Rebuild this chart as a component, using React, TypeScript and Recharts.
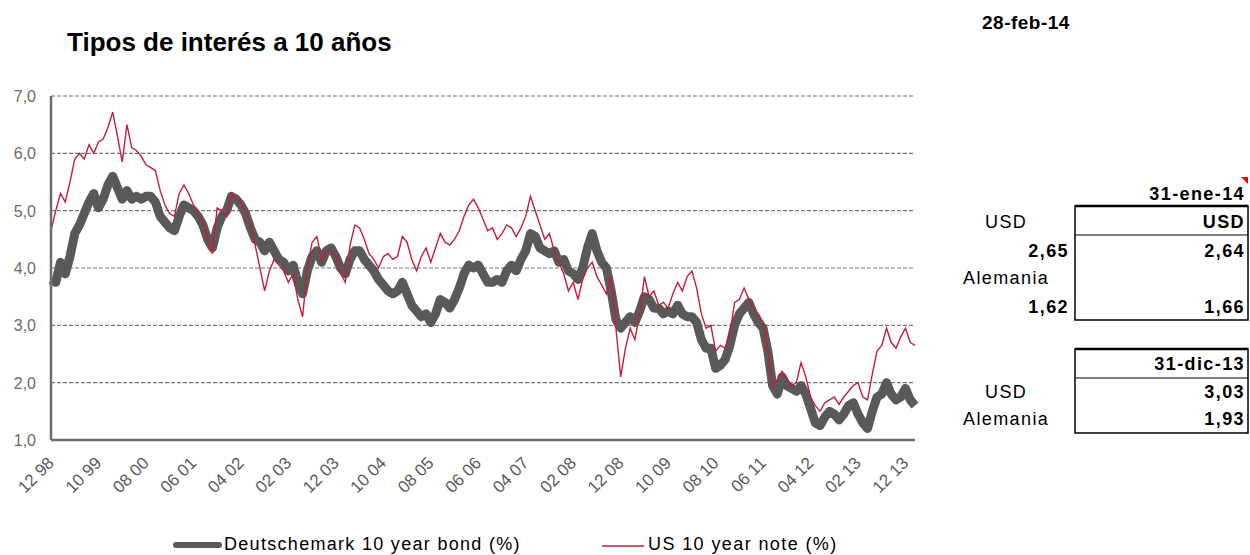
import { LineChart, Line, XAxis, YAxis, CartesianGrid } from "recharts";

// monthly readings, dic-98 .. feb-14
const START_YEAR = 1998;
const START_MONTH = 12;

const US_10Y = [
  4.65, 5.0, 5.3, 5.15, 5.5, 5.9, 6.0, 5.9, 6.15, 6.0, 6.2, 6.25, 6.45,
  6.72, 6.3, 5.85, 6.5, 6.1, 6.05, 5.95, 5.8, 5.75, 5.7, 5.35, 5.1,
  4.95, 4.9, 5.3, 5.45, 5.3, 5.1, 4.95, 4.8, 4.5, 4.25, 5.05, 5.0,
  4.9, 5.3, 5.2, 5.15, 4.95, 4.75, 4.4, 4.0, 3.6, 3.95, 4.15, 4.05,
  3.95, 3.75, 3.9, 3.45, 3.15, 4.0, 4.45, 4.55, 4.15, 4.3, 4.3, 4.2,
  3.9, 3.75, 4.4, 4.75, 4.7, 4.5, 4.25, 4.15, 4.0, 4.2, 4.25, 4.15,
  4.2, 4.55, 4.45, 4.15, 3.95, 4.2, 4.35, 4.1, 4.35, 4.6, 4.45, 4.4,
  4.5, 4.65, 4.9, 5.1, 5.2, 5.05, 4.85, 4.65, 4.7, 4.5, 4.6, 4.75,
  4.7, 4.55, 4.7, 4.9, 5.25, 5.0, 4.75, 4.5, 4.6, 4.3, 4.1, 3.9,
  3.6, 3.75, 3.45, 3.8, 4.0, 4.1, 3.85, 3.7, 3.55, 3.85, 2.95, 2.1,
  2.6, 2.95, 2.75, 3.2, 3.85, 3.5, 3.6, 3.35, 3.4, 3.3, 3.55, 3.75,
  3.6, 3.85, 3.95, 3.65, 3.2, 2.95, 3.0, 2.55, 2.65, 2.6, 2.85, 3.4,
  3.45, 3.65, 3.45, 3.3, 3.2, 3.05, 2.55, 1.95, 2.05, 2.2, 2.05, 1.95,
  2.0, 2.35, 2.1, 1.75, 1.6, 1.5, 1.65, 1.7, 1.75, 1.62, 1.75, 1.85,
  1.95, 2.0, 1.75, 1.7, 2.15, 2.55, 2.65, 2.95, 2.7, 2.6, 2.8, 2.95,
  2.7, 2.65,
];

const BUND_10Y = [
  3.8, 3.75, 4.1, 3.9, 4.2, 4.6, 4.75, 4.95, 5.15, 5.3, 5.05, 5.2, 5.45,
  5.6, 5.4, 5.2, 5.35, 5.2, 5.25, 5.2, 5.25, 5.25, 5.15, 4.9, 4.8,
  4.7, 4.65, 4.9, 5.1, 5.05, 5.0, 4.9, 4.75, 4.5, 4.35, 4.7, 4.9,
  5.0, 5.25, 5.2, 5.1, 4.95, 4.7, 4.5, 4.45, 4.3, 4.45, 4.3, 4.15,
  4.1, 3.95, 4.05, 3.75, 3.55, 3.95, 4.2, 4.3, 4.1, 4.3, 4.35, 4.2,
  4.0, 3.9, 4.15, 4.3, 4.3, 4.15, 4.05, 3.95, 3.8, 3.7, 3.6, 3.55,
  3.6, 3.75, 3.55, 3.35, 3.25, 3.15, 3.2, 3.05, 3.2, 3.45, 3.4, 3.3,
  3.45, 3.65, 3.9, 4.05, 4.0, 4.05, 3.9, 3.75, 3.75, 3.8, 3.75, 3.95,
  4.05, 3.95, 4.15, 4.3, 4.6, 4.55, 4.35, 4.3, 4.25, 4.3, 4.1, 4.15,
  3.95, 3.9, 3.8, 4.0, 4.35, 4.6, 4.3, 4.1, 4.0, 3.6, 3.1, 2.95,
  3.05, 3.15, 3.05, 3.25, 3.5, 3.45, 3.3, 3.3, 3.2, 3.25, 3.2, 3.35,
  3.2, 3.15, 3.15, 3.05, 2.75, 2.6, 2.6, 2.25, 2.3, 2.4, 2.65, 3.0,
  3.2, 3.3, 3.4, 3.2, 3.05, 2.95, 2.55, 1.95, 1.8, 2.1, 1.95, 1.9,
  1.85, 1.95, 1.8, 1.55, 1.3, 1.25, 1.4, 1.5, 1.45, 1.35, 1.45, 1.6,
  1.65, 1.45, 1.3, 1.2, 1.5, 1.75, 1.8, 2.0, 1.8, 1.7, 1.75, 1.9,
  1.7, 1.6,
];

const TICK_LABELS = [
  "12 98", "10 99", "08 00", "06 01", "04 02", "02 03", "12 03", "10 04", "08 05", "06 06",
  "04 07", "02 08", "12 08", "10 09", "08 10", "06 11", "04 12", "02 13", "12 13",
];

const Y_TICKS = [1, 2, 3, 4, 5, 6, 7];

const pad = (n: number) => String(n).padStart(2, "0");
const CATEGORIES = BUND_10Y.map((_, i) => {
  const mi = START_MONTH - 1 + i;
  return `${pad((mi % 12) + 1)} ${pad((START_YEAR + Math.floor(mi / 12)) % 100)}`;
});

const data = CATEGORIES.map((date, i) => ({ date, bund: BUND_10Y[i], us: US_10Y[i] }));

const FONT = "'Liberation Sans', Arial, sans-serif";
const GREY = "#595959";
const RED = "#c41e3a";

const XTick = ({ x, y, payload }: { x?: number; y?: number; payload?: { value: string } }) => (
  <text
    x={(x ?? 0) + 4}
    y={(y ?? 0) + 24}
    transform={`rotate(-45, ${(x ?? 0) + 4}, ${(y ?? 0) + 24})`}
    textAnchor="end"
    fontSize={17}
    fontFamily={FONT}
    fill="#5a5a5a"
  >
    {payload?.value}
  </text>
);

const YTick = ({ x, y, payload }: { x?: number; y?: number; payload?: { value: number } }) => (
  <text x={x} y={(y ?? 0) + 6} textAnchor="end" fontSize={16} fontFamily={FONT} fill="#76695d">
    {payload?.value.toFixed(1).replace(".", ",")}
  </text>
);

const txt = { fontFamily: FONT, fill: "#000" };

export default function App() {
  return (
    <div style={{ position: "absolute", left: 0, top: 0, width: 1250, height: 555, background: "#fff" }}>
      <div style={{ position: "absolute", left: 0, top: 0 }}>
        <LineChart width={930} height={555} data={data} margin={{ top: 96, right: 15, left: 0, bottom: 55 }}>
          <CartesianGrid vertical={false} stroke="#777" strokeWidth={1.1} strokeDasharray="4 2" />
          <XAxis
            dataKey="date"
            ticks={TICK_LABELS}
            interval={0}
            height={60}
            tickLine={false}
            tickSize={0}
            tickMargin={0}
            axisLine={{ stroke: "#6d6d6d", strokeWidth: 2.5 }}
            tick={<XTick />}
          />
          <YAxis
            domain={[1, 7]}
            ticks={Y_TICKS}
            width={51}
            tickLine={false}
            tickSize={0}
            tickMargin={15}
            axisLine={{ stroke: "#6d6d6d", strokeWidth: 2.5 }}
            tick={<YTick />}
          />
          <Line
            type="linear"
            dataKey="bund"
            stroke={GREY}
            strokeWidth={9}
            strokeLinejoin="round"
            dot={false}
            isAnimationActive={false}
          />
          <Line
            type="linear"
            dataKey="us"
            stroke={RED}
            strokeWidth={1.4}
            dot={false}
            isAnimationActive={false}
          />
        </LineChart>
      </div>
      <svg width={1250} height={555} style={{ position: "absolute", left: 0, top: 0, pointerEvents: "none" }}>
        <text x={67} y={51} fontSize={26} fontWeight="bold" {...txt}>Tipos de interés a 10 años</text>
        <text x={982} y={29} fontSize={19} fontWeight="bold" letterSpacing={0.5} {...txt}>28-feb-14</text>

        {/* legend */}
        <line x1={176} y1={545} x2={219} y2={545} stroke={GREY} strokeWidth={6} strokeLinecap="round" />
        <text x={224} y={550} fontSize={18} letterSpacing={1.3} {...txt}>Deutschemark 10 year bond (%)</text>
        <line x1={602} y1={546} x2={644} y2={546} stroke={RED} strokeWidth={1.5} />
        <text x={648} y={550} fontSize={18} letterSpacing={1.4} {...txt}>US 10 year note (%)</text>

        {/* table 31-ene-14 */}
        <polygon points="1241,177 1248,177 1248,184" fill="#ff0000" />
        <text x={1245} y={200} fontSize={18} fontWeight="bold" letterSpacing={1.4} textAnchor="end" {...txt}>31-ene-14</text>
        <rect x={1075} y={206} width={173} height={114} fill="none" stroke="#000" strokeWidth={1.5} />
        <line x1={1075} y1={206} x2={1248} y2={206} stroke="#000" strokeWidth={2.5} />
        <line x1={1075} y1={235} x2={1248} y2={235} stroke="#000" strokeWidth={1.2} />
        <text x={985} y={228} fontSize={18} letterSpacing={1.4} {...txt}>USD</text>
        <text x={1245} y={228} fontSize={18} fontWeight="bold" letterSpacing={1.4} textAnchor="end" {...txt}>USD</text>
        <text x={1069} y={257} fontSize={18} fontWeight="bold" letterSpacing={1.4} textAnchor="end" {...txt}>2,65</text>
        <text x={1245} y={257} fontSize={18} fontWeight="bold" letterSpacing={1.4} textAnchor="end" {...txt}>2,64</text>
        <text x={963} y={284} fontSize={18} letterSpacing={1.4} {...txt}>Alemania</text>
        <text x={1069} y={313} fontSize={18} fontWeight="bold" letterSpacing={1.4} textAnchor="end" {...txt}>1,62</text>
        <text x={1245} y={313} fontSize={18} fontWeight="bold" letterSpacing={1.4} textAnchor="end" {...txt}>1,66</text>

        {/* table 31-dic-13 */}
        <rect x={1075} y={349} width={173} height={84} fill="none" stroke="#000" strokeWidth={1.5} />
        <line x1={1075} y1={349} x2={1248} y2={349} stroke="#000" strokeWidth={2.5} />
        <line x1={1075} y1={378} x2={1248} y2={378} stroke="#000" strokeWidth={1.2} />
        <text x={1245} y={370} fontSize={18} fontWeight="bold" letterSpacing={1.4} textAnchor="end" {...txt}>31-dic-13</text>
        <text x={985} y={398} fontSize={18} letterSpacing={1.4} {...txt}>USD</text>
        <text x={1245} y={398} fontSize={18} fontWeight="bold" letterSpacing={1.4} textAnchor="end" {...txt}>3,03</text>
        <text x={963} y={425} fontSize={18} letterSpacing={1.4} {...txt}>Alemania</text>
        <text x={1245} y={425} fontSize={18} fontWeight="bold" letterSpacing={1.4} textAnchor="end" {...txt}>1,93</text>
      </svg>
    </div>
  );
}
